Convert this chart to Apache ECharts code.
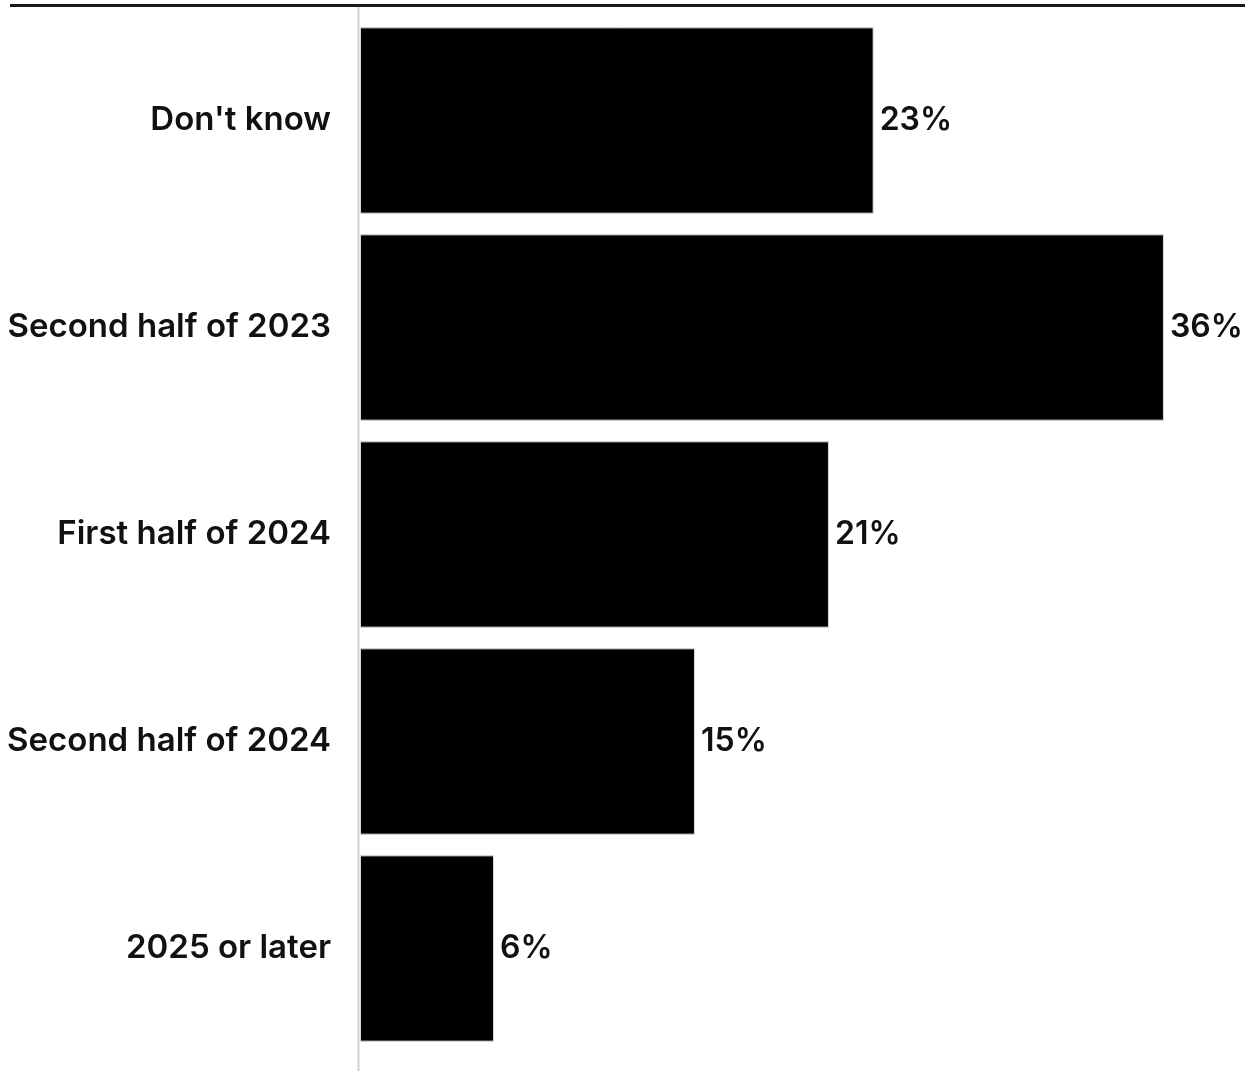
<!DOCTYPE html>
<html>
<head>
<meta charset="utf-8">
<style>
  html, body { margin: 0; padding: 0; background: #fff; }
  #chart { width: 1245px; height: 1071px; }
</style>
<script src="https://cdn.jsdelivr.net/npm/echarts@6/dist/echarts.min.js"></script>
</head>
<body>
<div id="chart"></div>
<script>
// categories top to bottom
var categories = ['Don\'t know', 'Second half of 2023', 'First half of 2024', 'Second half of 2024', '2025 or later'];
var values = [23, 36, 21, 15, 6];

var myChart = echarts.init(document.getElementById('chart'));
var font = 'Inter, "Noto Sans", sans-serif';

var option = {
    animation: false,
    backgroundColor: '#fff',
    grid: { left: 360, top: 17, right: 0, height: 1035, containLabel: false },
    xAxis: {
        type: 'value',
        min: 0,
        max: 39.63,
        show: false
    },
    yAxis: {
        type: 'category',
        inverse: true,
        data: categories,
        axisLine: { show: false },
        axisTick: { show: false },
        axisLabel: {
            color: '#111',
            fontFamily: font,
            fontWeight: 600,
            fontSize: 33,
            margin: 29
        }
    },
    graphic: [
        // top rule
        { type: 'rect', shape: { x: 10, y: 4, width: 1235, height: 3 }, style: { fill: '#1a1a1a' } },
        // vertical axis rule
        { type: 'rect', shape: { x: 357.5, y: 7, width: 2, height: 1064 }, style: { fill: '#cfcfcf' }, z: 10 }
    ],
    series: [{
        type: 'bar',
        data: values,
        barCategoryGap: '10%',
        itemStyle: { color: '#000', borderColor: '#d8d8d8', borderWidth: 1 },
        label: {
            show: true,
            position: 'right',
            distance: 6,
            formatter: '{c}%',
            color: '#111',
            fontFamily: font,
            fontWeight: 600,
            fontSize: 32
        }
    }]
};

myChart.setOption(option);
window.onresize = myChart.resize;
</script>
</body>
</html>
